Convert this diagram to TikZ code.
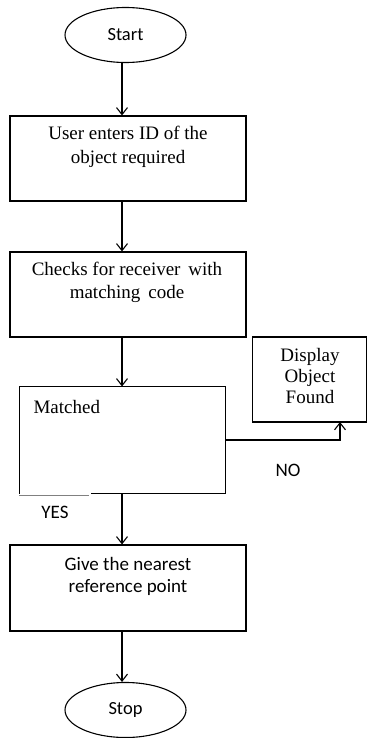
\documentclass[tikz,border=0pt]{standalone}
\usepackage{fontspec}
\setmainfont{Liberation Serif}
\newfontfamily\calib{Carlito}
\usetikzlibrary{shapes.geometric,arrows.meta}
\begin{document}
\begin{tikzpicture}[x=1pt,y=-1pt,
  line width=1.1pt,
  box/.style={draw,rectangle,inner sep=0pt,minimum width=#1},
  term/.style={draw,ellipse,inner sep=0pt,minimum width=121pt,minimum height=55pt,font=\calib\fontsize{18.5}{22}\selectfont},
  txt/.style={inner sep=0pt,align=center,font=\fontsize{19}{24}\selectfont},
  stxt/.style={inner sep=0pt,align=center,font=\calib\fontsize{19}{22}\selectfont},
  arr/.style={-{Straight Barb[length=7pt,width=11pt,line width=1.1pt]}}]
\useasboundingbox (0,0) rectangle (367,738);
\coordinate (ax) at (122,0);
\node[term] (start) at (125.5,35) {Start};
\node[box=236pt,minimum height=85pt] (b1) at (128,158.5) {};
\node[txt,anchor=north] (t1) at (128,126) {User enters ID of the\\object required};
\node[box=236pt,minimum height=85pt] (b2) at (128,294.5) {};
\node[txt,anchor=north,font=\fontsize{19}{23}\selectfont] (t2) at (127,262) {Checks for receiver\, with\\matching\, code};
\node[rectangle,inner sep=0pt,minimum width=205pt,minimum height=106pt] (b3) at (122.5,440) {};
\draw (b3.south west) ++(72pt,0) -- (b3.south east) -- (b3.north east) -- (b3.north west) -- (b3.south west);
\draw[gray,line width=1.5pt] ([yshift=-2pt]b3.south west) -- ++(70,0);
\node[txt,anchor=north west] (t3) at (33,400) {Matched};
\node[box=114pt,minimum height=85pt] (b4) at (309.5,379.5) {};
\node[txt,anchor=north,font=\fontsize{19}{21}\selectfont] (t4) at (310,348) {Display\\Object\\Found};
\node[box=236pt,minimum height=86pt] (b5) at (128,588) {};
\node[stxt,anchor=north] (t5) at (128,557) {Give the nearest\\reference point};
\node[term] (stop) at (125.5,710) {Stop};
\node[stxt] (no) at (288,470) {NO};
\node[stxt] (yes) at (55,512) {YES};
\coordinate (c4) at (340,422);
\draw[arr] (start.south -| ax) -- (b1.north -| ax);
\draw[arr] (b1.south -| ax) -- (b2.north -| ax);
\draw[arr] (b2.south -| ax) -- (b3.north -| ax);
\draw[arr] (b3.south -| ax) -- (b5.north -| ax);
\draw[arr] (b5.south -| ax) -- (stop.north -| ax);
\draw[arr] (b3.east) -| (c4);
\end{tikzpicture}
\end{document}
